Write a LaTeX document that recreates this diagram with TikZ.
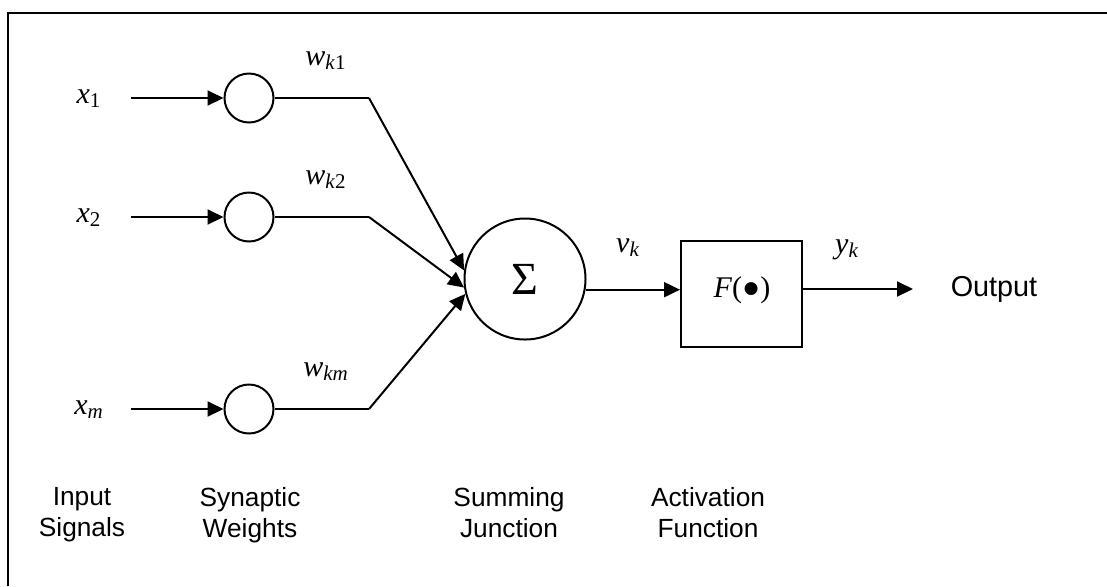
\documentclass[tikz,border=0pt]{standalone}
\usepackage{fontspec}
\setmainfont{Liberation Serif}
\setsansfont{Liberation Sans}
\usetikzlibrary{arrows.meta}

\tikzset{
  wire/.style={line width=1pt},
  sig/.style={wire, -{Triangle[length=8pt,width=7.5pt]}},
  weight/.style={draw, circle, line width=1pt, minimum size=24.5pt, inner sep=0pt},
  var/.style={font=\fontsize{15}{18}\selectfont\itshape, inner sep=0pt},
  caption/.style={font=\sffamily\fontsize{13.15}{15.5}\selectfont, align=center, inner sep=0pt, anchor=north},
}

\begin{document}
\begin{tikzpicture}[x=0.5pt, y=-0.5pt]
  \useasboundingbox (0,0) rectangle (1107,586);
  % frame
  \draw[line width=1.1pt] (8,586) -- (8,13) -- (1107,13);

  % inputs and synaptic weights
  \foreach \n/\y/\xs/\ws in {1/98/\textup{1}/k\textup{1}, 2/217/\textup{2}/k\textup{2}, m/409/m/km}{
    \node[var, anchor=base] (x\n) at (89,\y+5) {x\textsubscript{\xs}};
    \node[weight] (w\n) at (249,\y) {};
    \node[var, anchor=base] (lw\n) at (326,\y-33) {w\textsubscript{\ws}};
    \coordinate (in\n) at (131,\y);
    \coordinate (bend\n) at (369,\y);
    \draw[sig] (in\n) -- (w\n);
    \draw[wire] (w\n) -- (bend\n);
  }

  % summing junction
  \node[draw, circle, line width=1pt, minimum size=60.5pt, inner sep=0pt,
        font=\fontsize{23}{26}\selectfont] (sum) at (525,279) {Σ};
  \draw[sig] (bend1) -- (sum.172);
  \draw[sig] (bend2) -- (sum.188);
  \draw[sig] (bendm) -- (sum.194);

  % activation function
  \node[draw, line width=1pt, minimum width=60.5pt, minimum height=53pt] (act) at (741.5,294) {};
  \node[var, anchor=base] (flabel) at (742,297) {F\textup{(●)}};
  \draw[sig] (sum.-10.5) -- (sum.-10.5 -| act.west);
  \node[var, anchor=base] (lv) at (628,252) {v\textsubscript{k}};

  % output
  \coordinate (outend) at (913,289);
  \draw[sig] (act.east |- outend) -- (outend);
  \node[var, anchor=base] (ly) at (847,253) {y\textsubscript{k}};
  \node[font=\sffamily\fontsize{14.4}{17}\selectfont, anchor=base, inner sep=0pt] (output) at (994,296) {Output};

  % captions
  \node[caption] (cin) at (82,487) {Input\\Signals};
  \node[caption] (cw) at (250,487) {Synaptic\\Weights};
  \node[caption] (csum) at (509,487) {Summing\\Junction};
  \node[caption] (cact) at (708,487) {Activation\\Function};
\end{tikzpicture}
\end{document}
